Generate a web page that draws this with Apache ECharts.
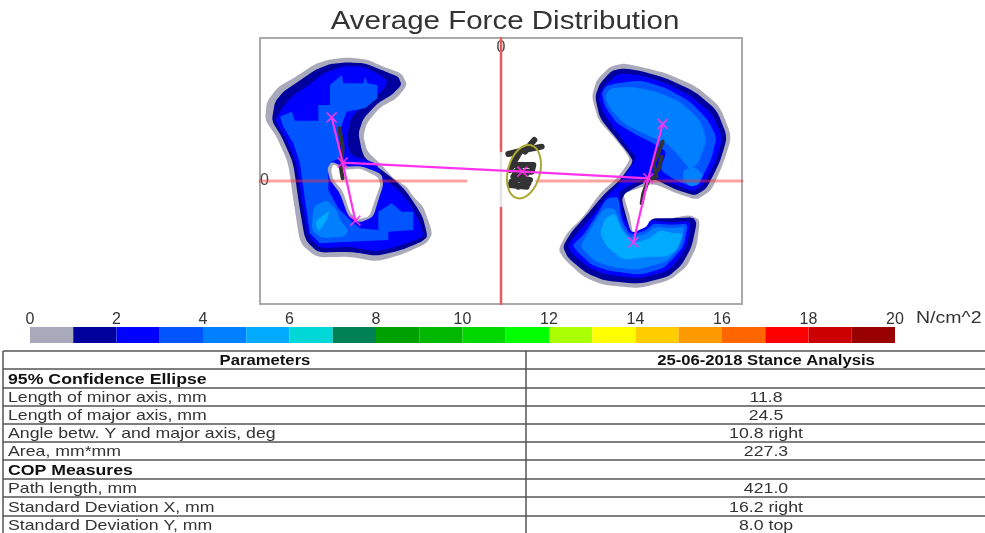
<!DOCTYPE html>
<html lang="en">

<head>
    <meta charset="UTF-8">
    <title>Average Force Distribution</title>
    <script src="https://cdn.jsdelivr.net/npm/echarts@6/dist/echarts.min.js"></script>
    <style>
        * {
            margin: 0;
            padding: 0
        }

        html,
        body {
            width: 100%;
            height: 100%;
            background: #fff;
            overflow: hidden;
        }

        #main {
            width: 985px;
            height: 533px;
            filter: blur(0.6px);
        }
    </style>
</head>

<body>
    <div id="main"></div>
    <script type="text/javascript">
        // pressure contours, in plate units (zero at the crossing of the red lines)
        var leftGray = [[-463, 371], [-403, 365], [-353, 343], [-298, 323], [-281, 288], [-313, 248], [-363, 221], [-403, 173], [-413, 133], [-401, 88], [-358, 48], [-323, 8], [-283, -17], [-263, -47], [-233, -77], [-205, -157], [-223, -187], [-293, -219], [-373, -242], [-453, -227], [-553, -229], [-603, -187], [-623, -57], [-638, 53], [-673, 133], [-708, 183], [-703, 238], [-668, 283], [-623, 308], [-563, 348], [-523, 363]];
        var leftNavy = [[-463, 356], [-408, 353], [-353, 331], [-308, 313], [-298, 288], [-328, 258], [-368, 235], [-413, 188], [-428, 143], [-418, 93], [-408, 68], [-358, 33], [-313, -2], [-288, -27], [-263, -62], [-235, -107], [-220, -167], [-238, -182], [-298, -207], [-373, -225], [-453, -212], [-548, -215], [-588, -177], [-608, -57], [-623, 53], [-658, 133], [-688, 181], [-678, 238], [-653, 268], [-613, 295], [-558, 333], [-513, 351]];
        var leftBlue = [[-473, 345], [-413, 343], [-363, 318], [-338, 298], [-358, 268], [-413, 228], [-448, 193], [-463, 133], [-453, 78], [-373, 53], [-358, 13], [-313, -22], [-273, -67], [-243, -127], [-231, -167], [-298, -192], [-373, -212], [-453, -197], [-543, -202], [-578, -167], [-598, -57], [-613, 53], [-643, 123], [-678, 181], [-658, 218], [-623, 258], [-583, 283], [-533, 323]];
        var leftMid = [[-663, 193], [-628, 208], [-618, 181], [-548, 181], [-548, 228], [-513, 228], [-513, 288], [-478, 318], [-473, 293], [-413, 293], [-408, 313], [-401, 293], [-371, 288], [-371, 248], [-408, 218], [-463, 208], [-483, 153], [-483, 68], [-508, 58], [-518, 33], [-518, -27], [-488, -82], [-453, -117], [-423, -142], [-368, -147], [-368, -92], [-328, -67], [-298, -92], [-263, -92], [-263, -147], [-338, -152], [-338, -177], [-453, -182], [-543, -187], [-573, -157], [-588, -57], [-603, 53], [-623, 113], [-653, 163]];
        var leftAzure = [[-563, -77], [-523, -57], [-493, -87], [-483, -117], [-458, -147], [-468, -167], [-538, -172], [-568, -147]];
        var leftSky = [[-558, -122], [-513, -87], [-525, -122], [-548, -152]];
        var leftHoleRim = [[-508, 58], [-473, 43], [-418, 45], [-358, 21], [-353, -12], [-368, -57], [-383, -107], [-423, -125], [-458, -107], [-483, -37], [-513, 3], [-521, 38]];
        var leftHole = [[-503, 51], [-473, 33], [-423, 38], [-371, 13], [-361, -9], [-378, -57], [-395, -107], [-431, -115], [-453, -95], [-475, -29], [-503, 3], [-510, 33]];

        var rightGray = [[367, 353], [417, 343], [497, 323], [587, 283], [657, 223], [692, 133], [667, 53], [632, -27], [587, -57], [527, -37], [457, -7], [397, -27], [367, -37], [372, -57], [387, -107], [397, -167], [407, -172], [437, -152], [457, -117], [507, -112], [567, -102], [597, -117], [587, -197], [557, -257], [507, -297], [417, -322], [307, -312], [247, -287], [192, -237], [172, -207], [197, -157], [247, -107], [297, -37], [352, 13], [387, 63], [377, 83], [337, 133], [292, 183], [272, 253], [287, 303], [327, 343]];
        var rightNavy = [[367, 338], [417, 331], [497, 308], [582, 268], [647, 213], [679, 133], [657, 58], [617, -22], [582, -44], [527, -27], [457, 8], [407, -17], [372, -37], [362, -57], [387, -147], [402, -165], [437, -142], [452, -112], [507, -112], [577, -109], [587, -127], [572, -197], [542, -252], [502, -287], [417, -309], [312, -299], [257, -277], [202, -232], [185, -197], [212, -152], [257, -102], [307, -42], [357, 3], [397, 58], [382, 83], [342, 133], [297, 188], [282, 253], [297, 293], [332, 331]];
        var rightBlue = [[352, 323], [417, 318], [497, 293], [572, 253], [632, 203], [665, 133], [647, 63], [607, -12], [577, -32], [527, -12], [447, 13], [377, -17], [352, -37], [367, -107], [392, -157], [437, -137], [447, -117], [507, -125], [572, -119], [557, -197], [527, -242], [497, -272], [417, -292], [317, -282], [267, -262], [217, -222], [199, -197], [227, -157], [272, -107], [317, -47], [352, -12], [407, 68], [387, 93], [347, 148], [307, 203], [292, 253], [307, 283]];
        var foreMid = [[317, 288], [417, 303], [497, 278], [567, 238], [617, 188], [647, 133], [632, 68], [597, -2], [572, -17], [522, 3], [477, 33], [497, 88], [457, 113], [407, 138], [347, 173], [312, 223], [302, 263]];
        var foreAzure = [[327, 278], [387, 283], [467, 268], [537, 238], [597, 183], [617, 123], [592, 53], [567, 33], [532, 78], [497, 113], [437, 138], [367, 173], [327, 218], [312, 253]];
        var forePatch = [[547, 33], [582, 43], [607, 18], [592, -12], [567, -17], [547, 3]];
        var heelMid = [[317, -52], [352, -47], [362, -117], [387, -162], [437, -147], [457, -127], [512, -132], [562, -127], [547, -197], [517, -232], [487, -262], [417, -282], [322, -269], [272, -252], [229, -212], [215, -192], [247, -162], [287, -102]];
        var heelAzure = [[307, -82], [342, -82], [362, -137], [387, -172], [437, -157], [462, -137], [512, -142], [552, -137], [537, -197], [497, -242], [407, -267], [327, -257], [277, -237], [237, -197], [267, -147]];
        var heelSky = [[312, -112], [342, -97], [362, -147], [397, -187], [447, -172], [477, -147], [517, -157], [547, -157], [527, -207], [497, -227], [437, -227], [367, -237], [317, -197], [297, -157]];

        // centre of pressure traces
        var copTraces = [
            [[-485, 158], [-475, 103], [-478, 58]],
            [[-481, 43], [-475, 8]],
            [[485, 118], [472, 83], [457, 53], [467, 13], [442, 3], [427, -37], [422, -67]],
            [[482, 73], [472, 33]]
        ];
        var copCluster = [
            [[100, 123], [87, 108], [72, 88]],
            [[22, 81], [62, 91], [122, 103]],
            [[57, 88], [37, 53], [27, 33]],
            [[37, 48], [97, 48], [92, 28], [62, 28], [27, -12], [77, -17]],
            [[37, 13], [87, 3], [52, -17]],
            [[62, 48], [42, 23], [77, 23]],
            [[32, -2], [62, 8], [82, -7]]
        ];

        // magenta axes of the feet and the link between them
        var footAxes = [
            [[-508, 191], [-475, 55], [-437, -119]],
            [[485, 171], [442, 8], [397, -184]],
            [[-475, 55], [64, 28], [442, 8]]
        ];
        var footMarks = [[-508, 191], [-437, -119], [485, 171], [397, -184], [64, 28], [-475, 55], [442, 8]];

        var ellipseCentre = [69, 28];
        var ellipseMajor = 82;
        var ellipseMinor = 48;
        var ellipseTilt = 15;

        // scale bar
        var scaleColors = ['#a9a9bc', '#00009c', '#0000ff', '#0055ff', '#0080ff', '#00aaff', '#00d8d8', '#008055', '#00a000', '#00b800',
            '#00d800', '#00ff00', '#aaff00', '#ffff00', '#ffcc00', '#ff9900', '#ff6600', '#ff0000', '#cc0000', '#990000'];

        // table
        var paramNames = ['95% Confidence Ellipse', 'Length of minor axis, mm', 'Length of major axis, mm', 'Angle betw. Y and major axis, deg', 'Area, mm*mm',
            'COP Measures', 'Path length, mm', 'Standard Deviation X, mm', 'Standard Deviation Y, mm'];
        var paramValues = ['', '11.8', '24.5', '10.8 right', '227.3', '', '421.0', '16.2 right', '8.0 top'];
        var boldRows = [0, 5];
        var rowLines = [351, 369, 388, 406, 424, 442, 460, 479, 497, 516];

        // [outline, fill, rounding passes]
        var contourLayers = [
            [leftGray, '#a9a9bc', 3], [leftNavy, '#00009c', 3], [leftBlue, '#0000ff', 3], [leftMid, '#0055ff', 0], [leftAzure, '#0080ff', 3], [leftSky, '#00aaff', 2],
            [leftHoleRim, '#a9a9bc', 3], [leftHole, '#ffffff', 3],
            [rightGray, '#a9a9bc', 3], [rightNavy, '#00009c', 3], [rightBlue, '#0000ff', 3],
            [foreMid, '#0055ff', 3], [foreAzure, '#0080ff', 3], [forePatch, '#0080ff', 3],
            [heelMid, '#0055ff', 3], [heelAzure, '#0080ff', 3], [heelSky, '#00aaff', 3]
        ];

        function roundOutline(points, passes) {
            var out = points;
            for (var p = 0; p < passes; p++) {
                var next = [];
                for (var i = 0; i < out.length; i++) {
                    var a = out[i], b = out[(i + 1) % out.length];
                    next.push([a[0] * 0.85 + b[0] * 0.15, a[1] * 0.85 + b[1] * 0.15]);
                    next.push([a[0] * 0.15 + b[0] * 0.85, a[1] * 0.15 + b[1] * 0.85]);
                }
                out = next;
            }
            return out;
        }

        var graphics = [];
        function addText(text, x, y, align, bold, size, stretch) {
            graphics.push({
                type: 'text', x: x, y: y, scaleX: stretch, silent: true,
                style: {
                    text: text, align: align, verticalAlign: 'middle', fill: bold ? '#111' : '#333',
                    fontFamily: 'Liberation Sans', fontSize: size, fontWeight: bold ? 'bold' : 'normal'
                }
            });
        }
        function addLine(x1, y1, x2, y2) {
            graphics.push({
                type: 'line', silent: true, shape: { x1: x1, y1: y1, x2: x2, y2: y2 },
                style: { stroke: '#555', lineWidth: 1.5 }
            });
        }

        addText('Average Force Distribution', 505, 22, 'center', false, 25, 1.18);
        addText('N/cm^2', 916, 319, 'left', false, 16, 1.22);
        rowLines.forEach(function (y) { addLine(3, y, 985, y); });
        addLine(3, 351, 3, 533);
        addLine(526, 351, 526, 533);
        addText('Parameters', 265, 361, 'center', true, 14, 1.19);
        addText('25-06-2018 Stance Analysis', 766, 361, 'center', true, 14, 1.19);
        paramNames.forEach(function (name, i) {
            var rowY = i === 8 ? 526 : (rowLines[i + 1] + rowLines[i + 2]) / 2 + 1;
            addText(name, 8, rowY, 'left', boldRows.indexOf(i) >= 0, 15, 1.18);
            if (paramValues[i]) {
                addText(paramValues[i], 766, rowY, 'center', false, 15, 1.18);
            }
        });

        function crossLine(points, color, width) {
            return {
                type: 'line', xAxisIndex: 0, yAxisIndex: 0, data: points, symbol: 'none', silent: true,
                lineStyle: { color: color, width: width, cap: 'round', join: 'round' }
            };
        }

        var series = [
            {
                type: 'custom', xAxisIndex: 0, yAxisIndex: 0, silent: true, data: contourLayers.map(function (l, i) { return [i]; }),
                renderItem: function (params, api) {
                    var layer = contourLayers[api.value(0)];
                    return {
                        type: 'polygon',
                        shape: { points: roundOutline(layer[0], layer[2]).map(function (p) { return api.coord(p); }) },
                        style: { fill: layer[1] }
                    };
                }
            },
            crossLine([[0, 429], [0, 84]], '#ea5a5a', 2.5),
            crossLine([[0, 84], [0, -81]], '#e4e4e4', 2.5),
            crossLine([[0, -81], [0, -369]], '#ea5a5a', 2.5),
            crossLine([[-723, 0], [-105, 0]], 'rgba(250,50,50,0.45)', 3),
            crossLine([[107, 0], [723, 0]], 'rgba(250,50,50,0.45)', 3)
        ];
        copTraces.forEach(function (trace) {
            series.push(Object.assign(crossLine(trace, '#333333', 4), { z: 3 }));
        });
        copCluster.forEach(function (trace) {
            series.push(Object.assign(crossLine(trace, '#333333', 6), { z: 3 }));
        });
        footAxes.forEach(function (axis) {
            series.push(Object.assign(crossLine(axis, '#ff33ee', 2.2), { z: 4 }));
        });
        series.push({
            type: 'scatter', xAxisIndex: 0, yAxisIndex: 0, data: footMarks, z: 5, silent: true, symbolSize: 10,
            symbol: 'path://M0 0L10 10M10 0L0 10',
            itemStyle: { color: 'none', borderColor: '#ff33ee', borderWidth: 2 }
        });
        series.push({
            type: 'custom', xAxisIndex: 0, yAxisIndex: 0, silent: true, z: 4, data: [ellipseCentre],
            renderItem: function (params, api) {
                var c = api.coord([api.value(0), api.value(1)]);
                var s = api.size([ellipseMinor, ellipseMajor]);
                return {
                    type: 'ellipse', x: c[0], y: c[1], rotation: -ellipseTilt * Math.PI / 180,
                    shape: { cx: 0, cy: 0, rx: s[0], ry: s[1] },
                    style: { fill: 'none', stroke: '#a8a832', lineWidth: 2 }
                };
            }
        });
        series.push({
            type: 'custom', xAxisIndex: 1, yAxisIndex: 1, silent: true,
            data: scaleColors.map(function (c, i) { return [i]; }),
            renderItem: function (params, api) {
                var a = api.coord([api.value(0), 1]);
                var b = api.coord([api.value(0) + 1, 0]);
                return {
                    type: 'rect',
                    shape: { x: a[0], y: a[1], width: b[0] - a[0], height: b[1] - a[1] },
                    style: { fill: scaleColors[api.value(0)] }
                };
            }
        });

        var myChart = echarts.init(document.getElementById('main'), null, { renderer: 'canvas' });
        myChart.setOption({
            animation: false,
            grid: [
                { left: 260, top: 38, width: 482, height: 266, show: true, borderColor: '#aaa', borderWidth: 2, backgroundColor: '#fff' },
                { left: 30, top: 327, width: 865, height: 16 }
            ],
            xAxis: [
                {
                    gridIndex: 0, type: 'value', min: -723, max: 723, position: 'top',
                    axisLine: { show: false }, axisTick: { show: false }, splitLine: { show: false },
                    axisLabel: { customValues: [0], inside: true, margin: 2, color: '#444', fontSize: 16, fontFamily: 'Liberation Sans' }
                },
                {
                    gridIndex: 1, type: 'value', min: 0, max: 20, interval: 2, position: 'top',
                    axisLine: { show: false }, axisTick: { show: false }, splitLine: { show: false },
                    axisLabel: { margin: -1, color: '#333', fontSize: 16, fontFamily: 'Liberation Sans' }
                }
            ],
            yAxis: [
                {
                    gridIndex: 0, type: 'value', min: -369, max: 429,
                    axisLine: { show: false }, axisTick: { show: false }, splitLine: { show: false },
                    axisLabel: { customValues: [0], inside: true, margin: 0, color: '#444', fontSize: 16, fontFamily: 'Liberation Sans' }
                },
                { gridIndex: 1, type: 'value', min: 0, max: 1, show: false }
            ],
            graphic: graphics,
            series: series
        });
    </script>
</body>

</html>
